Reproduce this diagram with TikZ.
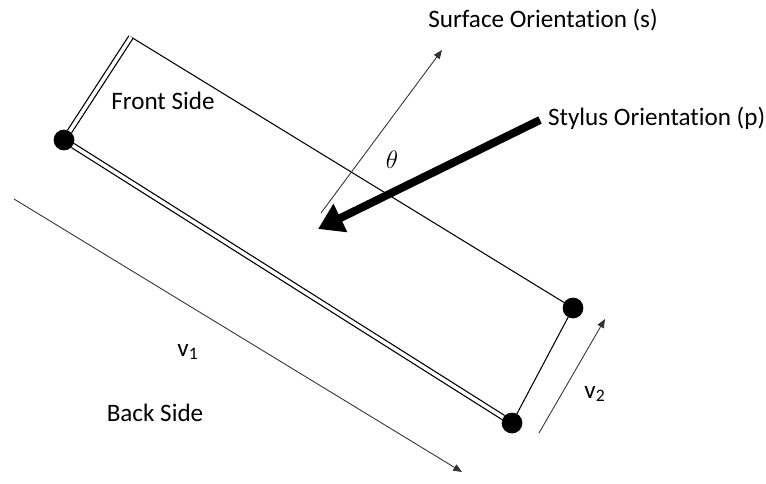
\documentclass[tikz,border=0pt]{standalone}
\usepackage{fontspec}
\setmainfont{Carlito}[Ligatures=NoCommon]
\usetikzlibrary{arrows.meta}
\begin{document}
\begin{tikzpicture}[x=0.02cm, y=-0.02cm, >={Triangle[length=5pt, width=4pt]},
    dot/.style={circle, fill=black, draw=black, inner sep=0pt, minimum size=0.4cm},
    edge/.style={line width=0.6pt},
    sheet/.style={line width=0.7pt, double, double distance=2pt},
    thinarrow/.style={->, line width=0.5pt, black!80},
    lbl/.style={font=\fontsize{14.3}{17}\selectfont, inner sep=1pt}]
    \useasboundingbox (0,0) rectangle (766,483);

    % Ecken der Platte
    \node[dot] (a) at (64,140) {};
    \node[dot] (b) at (512,423) {};
    \node[dot] (c) at (573,308) {};
    \coordinate (tl) at (131,37);

    % Kanten
    \draw[edge] (tl) -- (c.center);
    \draw[edge] (c) -- (b);
    \draw[sheet] (tl) -- (a);
    \draw[sheet] (a) -- (b);

    % Orientierungen
    \coordinate (s0) at (321,213);
    \coordinate (s1) at (442,50);
    \draw[thinarrow] (s0) -- (s1);
    \node[lbl] (surf) at (543,20) {Surface Orientation (s)};
    \coordinate (p0) at (540,120);
    \coordinate (p1) at (318,229);
    \draw[line width=0.16cm, -{Triangle[length=0.5cm, width=0.6cm]}] (p0) -- (p1);
    \node[lbl, anchor=west] (styl) at (546,118) {Stylus Orientation (p)};
    \node[font=\fontsize{14}{16}\selectfont] (theta) at (392,160) {$\theta$};

    % Seiten
    \node[lbl] (front) at (163,101) {Front Side};
    \node[lbl] (back) at (155,413) {Back Side};

    % Vektoren
    \coordinate (v1a) at (14,199);
    \coordinate (v1b) at (462,472);
    \draw[thinarrow] (v1a) -- (v1b);
    \node[lbl] (v1) at (188,352) {v\textsubscript{1}};
    \coordinate (v2a) at (539,433);
    \coordinate (v2b) at (605,319);
    \draw[thinarrow] (v2a) -- (v2b);
    \node[lbl] (v2) at (595,394) {v\textsubscript{2}};
\end{tikzpicture}
\end{document}
